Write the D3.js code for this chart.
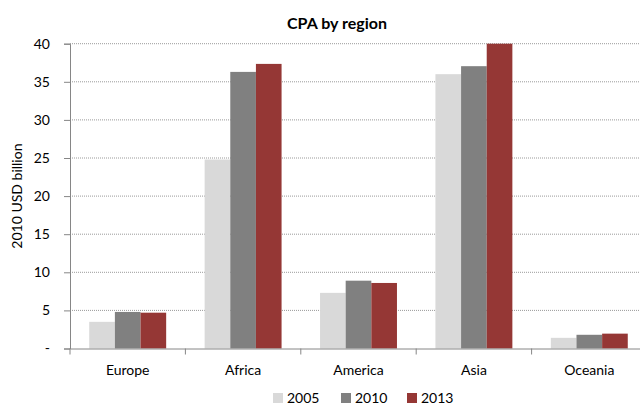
<!DOCTYPE html>
<html><head><meta charset="utf-8">
<script src="https://cdn.jsdelivr.net/npm/d3@7"></script>
<style>body{margin:0;background:#fff}svg{display:block;font-family:Lato,"Open Sans",sans-serif}</style>
</head><body>
<svg id="c" width="640" height="406"></svg>
<script>
const categories = ["Europe","Africa","America","Asia","Oceania"];
const seriesNames = ["2005","2010","2013"];
const v2005 = [3.5, 24.8, 7.3, 36.0, 1.4];
const v2010 = [4.8, 36.3, 8.9, 37.05, 1.8];
const v2013 = [4.7, 37.35, 8.6, 40.0, 1.95];
const yTicks = [0,5,10,15,20,25,30,35,40];
const yTickLabels = ["-","5","10","15","20","25","30","35","40"];
const colors = ["#d9d9d9","#808080","#953735"];

const series = [v2005, v2010, v2013];
const svg = d3.select("#c");
const L = 70, R = 647, T = 43.7, B = 348.5;

const x = d3.scaleBand().domain(categories).range([L, R]).paddingInner(0).paddingOuter(0);
const y = d3.scaleLinear().domain([0, 40]).range([B, T]);
const bw = x.bandwidth() / 4.5;
const xs = d3.scaleBand().domain(seriesNames).range([0.75*bw, 3.75*bw]).padding(0);

// gridlines
svg.append("g").selectAll("line").data(yTicks.filter(d => d > 0)).join("line")
  .attr("x1", L).attr("x2", 640).attr("y1", d => y(d)).attr("y2", d => y(d))
  .attr("stroke", "#9a9a9a").attr("stroke-width", 1).attr("stroke-dasharray", "1,1");

// bars
const g = svg.append("g");
series.forEach((s, i) => {
  g.selectAll(null).data(categories).join("rect")
    .attr("x", d => x(d) + xs(seriesNames[i]))
    .attr("width", xs.bandwidth())
    .attr("y", (d, j) => y(s[j]))
    .attr("height", (d, j) => y(0) - y(s[j]))
    .attr("fill", colors[i]);
});

// y axis
const yAxis = d3.axisLeft(y).tickValues(yTicks).tickFormat((d, i) => yTickLabels[i]).tickSize(6).tickPadding(14);
const ya = svg.append("g").attr("transform", `translate(${L},0)`).call(yAxis);
ya.select(".domain").attr("stroke", "#868686");
ya.selectAll(".tick line").attr("stroke", "#868686");
ya.selectAll("text").attr("font-size", 14).attr("fill", "#000").attr("font-family", "Lato,'Open Sans',sans-serif");

// x axis
const xAxis = d3.axisBottom(x).tickSize(0).tickPadding(17);
const xa = svg.append("g").attr("transform", `translate(0,${B})`).call(xAxis);
xa.select(".domain").attr("stroke", "#868686");
xa.selectAll("text").attr("font-size", 14).attr("fill", "#000").attr("font-family", "Lato,'Open Sans',sans-serif");
svg.append("g").selectAll("line").data(categories.concat(["_end"])).join("line")
  .attr("x1", (d, i) => i < categories.length ? x(d) : R)
  .attr("x2", (d, i) => i < categories.length ? x(d) : R)
  .attr("y1", B).attr("y2", B + 6).attr("stroke", "#868686");

// title
svg.append("text").attr("x", 337).attr("y", 29).attr("text-anchor", "middle")
  .attr("font-size", 16).attr("font-weight", "bold").text("CPA by region");

// y title
svg.append("text").attr("transform", `translate(22,${(T+B)/2}) rotate(-90)`)
  .attr("text-anchor", "middle").attr("font-size", 14).text("2010 USD billion");

// legend
const legX = [273, 341, 407];
const leg = svg.append("g");
seriesNames.forEach((n, i) => {
  leg.append("rect").attr("x", legX[i]).attr("y", 393).attr("width", 10).attr("height", 10).attr("fill", colors[i]);
  leg.append("text").attr("x", legX[i] + 14).attr("y", 403).attr("font-size", 14).text(n);
});
</script>
</body></html>
